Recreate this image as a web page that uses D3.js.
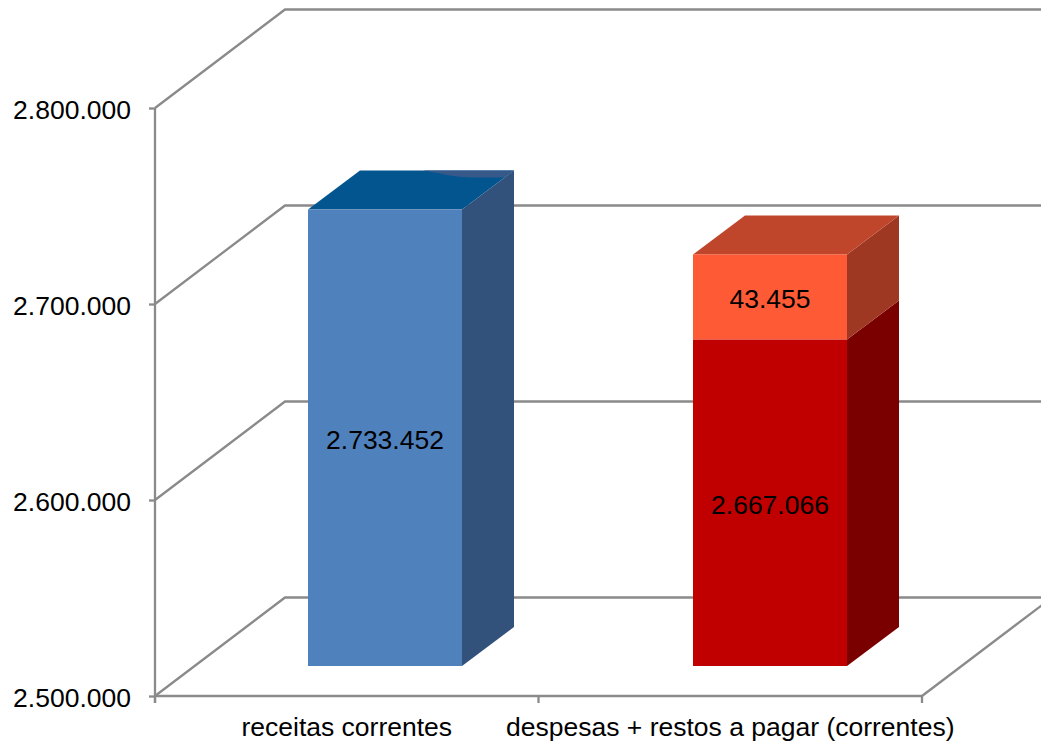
<!DOCTYPE html>
<html>
<head>
<meta charset="utf-8">
<script src="https://cdn.jsdelivr.net/npm/d3@7"></script>
<style>
html, body { margin: 0; padding: 0; background: #fff; overflow: hidden; }
text { font-family: "Liberation Sans", Arial, sans-serif; font-size: 26.5px; fill: #000; }
</style>
</head>
<body>
<script>
const width = 1041;
const height = 742;

const categories = ["receitas correntes", "despesas + restos a pagar (correntes)"];
const yTicks = [2500000, 2600000, 2700000, 2800000];
const receitas = [2733452, 0];
const despesas = [0, 2667066];
const restos = [0, 43455];

const margin = { left: 155, right: 119, top: 108, bottom: 46 };
const axisColor = "#8a8a8a";
// depth of the back wall and of the bars
const wall = { dx: 130, dy: -98.5 };
const depth = { dx: 52, dy: -39 };
const front = { dy: -30 };

const svg = d3.select("body").append("svg")
    .attr("width", width)
    .attr("height", height);

const xScale = d3.scaleBand()
    .domain(categories)
    .range([margin.left, width - margin.right])
    .paddingInner(0)
    .paddingOuter(0);

// the bars stand further back on the floor, so they get their own band
const barBand = d3.scaleBand()
    .domain(categories)
    .range([192.5, 962.5]);

const yScale = d3.scaleLinear()
    .domain([2500000, 2800000])
    .range([height - margin.bottom, margin.top]);

// bars sit a bit further up, and their scale is slightly tighter than the wall's
const barScale = d3.scaleLinear()
    .domain([2500000, 2800000])
    .range([height - margin.bottom + front.dy, margin.top + front.dy + 1.5]);

const ptFormat = d3.formatLocale({ decimal: ",", thousands: ".", grouping: [3], currency: ["", ""] }).format(",d");

// walls
const grid = svg.append("g").attr("fill", "none").attr("stroke", axisColor).attr("stroke-width", 2.3);
yTicks.forEach(t => {
    const px = margin.left;
    const py = yScale(t);
    const path = d3.path();
    path.moveTo(px, py);
    path.lineTo(px + wall.dx, py + wall.dy);
    path.lineTo(width - margin.right + wall.dx, py + wall.dy);
    grid.append("path").attr("d", path.toString());
});

// floor right edge
const floorEdge = d3.path();
floorEdge.moveTo(width - margin.right, yScale(2500000));
floorEdge.lineTo(width - margin.right + wall.dx, yScale(2500000) + wall.dy);
grid.append("path").attr("d", floorEdge.toString());

// axes
const yAxis = svg.append("g")
    .attr("transform", `translate(${margin.left},0)`)
    .call(d3.axisLeft(yScale).tickValues(yTicks).tickFormat(ptFormat).tickSize(6).tickPadding(18));

const xAxis = svg.append("g")
    .attr("transform", `translate(0,${height - margin.bottom})`)
    .call(d3.axisBottom(xScale).tickSize(0).tickPadding(21));

[yAxis, xAxis].forEach(a => {
    a.selectAll("path.domain").attr("stroke", axisColor).attr("stroke-width", 2.3);
    a.selectAll("line").attr("stroke", axisColor).attr("stroke-width", 2.3);
    a.selectAll("text").style("font-size", "26.5px").attr("fill", "#000");
});
yAxis.selectAll("text").attr("dy", "0.38em");
xAxis.select("path.domain").attr("d", `M${margin.left},0H${width - margin.right}`);
yAxis.select("path.domain").attr("d", `M0,${yScale(2800000)}V${yScale(2500000) + 7}`);

// x ticks fall on the band edges
[0, 1, 2].forEach(i => {
    const tx = margin.left + i * xScale.step();
    xAxis.append("line")
        .attr("x1", tx).attr("x2", tx)
        .attr("y1", 0).attr("y2", 7)
        .attr("stroke", axisColor).attr("stroke-width", 2.3);
});

// a 3D box: front, top and side faces
function box(x0, x1, yBottom, yTop, colors, withTop) {
    const g = svg.append("g");
    g.append("path").attr("fill", colors.side)
        .attr("d", `M${x1},${yBottom}L${x1 + depth.dx},${yBottom + depth.dy}L${x1 + depth.dx},${yTop + depth.dy}L${x1},${yTop}Z`);
    if (withTop) {
        g.append("path").attr("fill", colors.top)
            .attr("d", `M${x0},${yTop}L${x0 + depth.dx},${yTop + depth.dy}L${x1 + depth.dx},${yTop + depth.dy}L${x1},${yTop}Z`);
    }
    g.append("rect").attr("fill", colors.front)
        .attr("x", x0).attr("y", yTop)
        .attr("width", x1 - x0).attr("height", yBottom - yTop);
    return g;
}

const barWidth = 154;
const barX = d => barBand(d) + barBand.step() / 2 - barWidth / 2;

function barLabel(value, cat, yBottom, yTop) {
    svg.append("text")
        .attr("x", barX(cat) + barWidth / 2)
        .attr("y", (yBottom + yTop) / 2 + 11)
        .attr("text-anchor", "middle")
        .text(ptFormat(value));
}

// receitas
const blueX = barX(categories[0]);
const blueTop = barScale(receitas[0]);
box(blueX, blueX + barWidth, barScale.range()[0], blueTop,
    { front: "#4f81bd", top: "#02558f", side: "#32527b" }, true);
// lighter patch on the far edge of the blue top
svg.append("path").attr("fill", "#36598a")
    .attr("d", `M${blueX + 115},${blueTop - 39}C${blueX + 135},${blueTop - 36} ${blueX + 145},${blueTop - 32} ${blueX + 165},${blueTop - 32}L${blueX + 196},${blueTop - 32}L${blueX + 206},${blueTop - 39}Z`);
barLabel(receitas[0], categories[0], barScale.range()[0], blueTop);

// despesas + restos
const redX = barX(categories[1]);
const redTop = barScale(despesas[1]);
const orangeTop = barScale(despesas[1] + restos[1]);
box(redX, redX + barWidth, barScale.range()[0], redTop,
    { front: "#c00000", top: "#c00000", side: "#7a0000" }, false);
box(redX, redX + barWidth, redTop, orangeTop,
    { front: "#ff5a36", top: "#bf462b", side: "#9f3822" }, true);
barLabel(despesas[1], categories[1], barScale.range()[0], redTop);
barLabel(restos[1], categories[1], redTop, orangeTop);
</script>
</body>
</html>
